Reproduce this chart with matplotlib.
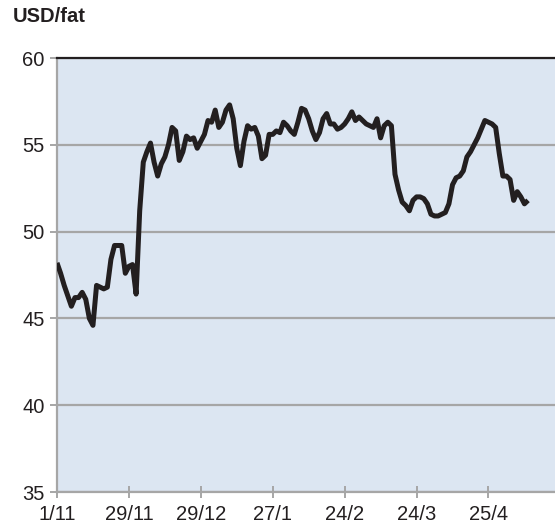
import matplotlib
matplotlib.use("Agg")
from matplotlib import pyplot as plt

# price, USD per barrel, one value per trading day from 1/11
prices = [
    48.2, 47.6, 46.9, 46.3, 45.7, 46.2, 46.2, 46.5, 46.1, 45.0,
    44.6, 46.9, 46.8, 46.7, 46.8, 48.4, 49.2, 49.2, 49.2, 47.6,
    48.0, 48.1, 46.4, 51.2, 54.0, 54.6, 55.1, 54.0, 53.2, 53.9,
    54.3, 55.0, 56.0, 55.8, 54.1, 54.6, 55.5, 55.3, 55.4, 54.8,
    55.2, 55.6, 56.4, 56.3, 57.0, 56.0, 56.3, 57.0, 57.3, 56.5,
    54.8, 53.8, 55.2, 56.1, 55.9, 56.0, 55.5, 54.2, 54.4, 55.6,
    55.6, 55.8, 55.7, 56.3, 56.1, 55.8, 55.6, 56.3, 57.1, 57.0,
    56.5, 55.8, 55.3, 55.7, 56.5, 56.8, 56.2, 56.2, 55.9, 56.0,
    56.2, 56.5, 56.9, 56.4, 56.6, 56.4, 56.2, 56.1, 56.0, 56.5,
    55.4, 56.1, 56.3, 56.1, 53.3, 52.4, 51.7, 51.5, 51.2, 51.8,
    52.0, 52.0, 51.9, 51.6, 51.0, 50.9, 50.9, 51.0, 51.1, 51.6,
    52.7, 53.1, 53.2, 53.5, 54.3, 54.6, 55.0, 55.4, 55.9, 56.4,
    56.3, 56.2, 56.0, 54.5, 53.2, 53.2, 53.0, 51.8, 52.3, 52.0,
    51.6, 51.8,
]
tick_pos = [0, 20, 40, 60, 80, 100, 120]
tick_labels = ["1/11", "29/11", "29/12", "27/1", "24/2", "24/3", "25/4"]
y_ticks = [35, 40, 45, 50, 55, 60]

plt.rcParams['font.family'] = ['Liberation Sans', 'DejaVu Sans']

fig = plt.figure(figsize=(5.55, 5.30), dpi=100)
ax = fig.add_axes([57 / 555, 1 - 492 / 530, 1 - 57 / 555, (492 - 58) / 530])
ax.set_facecolor("#DCE6F2")

ax.plot(range(len(prices)), prices, color="#231F20", linewidth=3.6,
        solid_joinstyle="round", solid_capstyle="butt", zorder=3)

ax.set_xlim(0, 138.5)
ax.set_ylim(35, 60)
ax.set_yticks(y_ticks)
ax.set_xticks(tick_pos)
ax.set_xticklabels(tick_labels)

ax.yaxis.grid(True, color="#A6A6A6", linewidth=1.6)
ax.set_axisbelow(True)

ax.spines["right"].set_visible(False)
ax.spines["top"].set_color("#231F20")
ax.spines["top"].set_linewidth(1.6)
ax.spines["left"].set_color("#A6A6A6")
ax.spines["left"].set_linewidth(1.6)
ax.spines["bottom"].set_color("#A6A6A6")
ax.spines["bottom"].set_linewidth(1.6)

ax.tick_params(axis="y", direction="out", length=5, width=1.4, color="#A6A6A6",
               labelsize=14.5, labelcolor="#231F20", pad=4)
ax.tick_params(axis="x", direction="inout", length=8, width=1.4, color="#A6A6A6",
               labelsize=14.5, labelcolor="#231F20", pad=5)

fig.text(13 / 555, 1 - 17 / 530, "USD/fat", fontsize=14.5, fontweight="bold",
         color="#231F20", va="center", ha="left")

fig.savefig("out.png", dpi=100)
